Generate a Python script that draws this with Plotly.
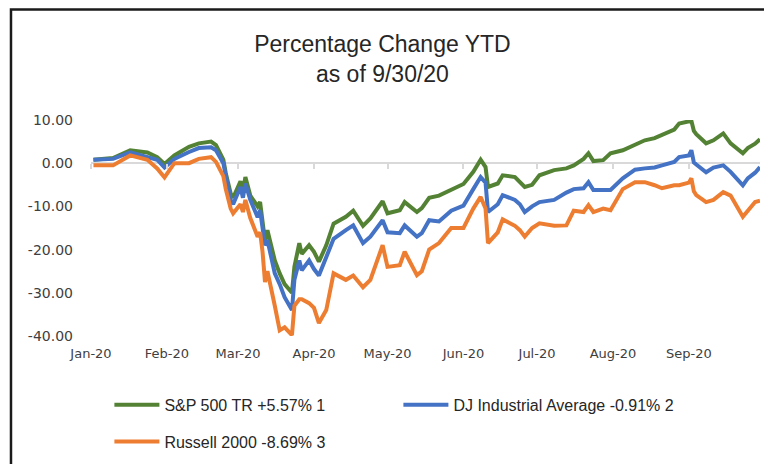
import plotly.graph_objects as go

# trading dates (Jan 2 - Sep 30, 2020)
dates = ["2020-01-02", "2020-01-10", "2020-01-17", "2020-01-24", "2020-01-28", "2020-01-31",
         "2020-02-04", "2020-02-10", "2020-02-14", "2020-02-19", "2020-02-21", "2020-02-24",
         "2020-02-25", "2020-02-27", "2020-02-28",
         "2020-03-02", "2020-03-03", "2020-03-04", "2020-03-06", "2020-03-09", "2020-03-10",
         "2020-03-11", "2020-03-12", "2020-03-13", "2020-03-16", "2020-03-18", "2020-03-20",
         "2020-03-23", "2020-03-24", "2020-03-26", "2020-03-27", "2020-03-30",
         "2020-04-01", "2020-04-03", "2020-04-06", "2020-04-09", "2020-04-14", "2020-04-17",
         "2020-04-21", "2020-04-24", "2020-04-29",
         "2020-05-01", "2020-05-06", "2020-05-08", "2020-05-13", "2020-05-15", "2020-05-18",
         "2020-05-22", "2020-05-27",
         "2020-06-01", "2020-06-05", "2020-06-08", "2020-06-10", "2020-06-11", "2020-06-15",
         "2020-06-17", "2020-06-22", "2020-06-24", "2020-06-26", "2020-06-29",
         "2020-07-02", "2020-07-08", "2020-07-13", "2020-07-16", "2020-07-20", "2020-07-22",
         "2020-07-24", "2020-07-28", "2020-07-31",
         "2020-08-05", "2020-08-10", "2020-08-14", "2020-08-18", "2020-08-21", "2020-08-26",
         "2020-08-28",
         "2020-09-01", "2020-09-02", "2020-09-03", "2020-09-04", "2020-09-08", "2020-09-11",
         "2020-09-15", "2020-09-18", "2020-09-23", "2020-09-25", "2020-09-28", "2020-09-30"]

# percentage change YTD
sp500 = [0.8, 1.2, 3.0, 2.5, 1.4, -0.2,
         1.8, 3.8, 4.6, 5.0, 4.2, 0.8, -2.3, -7.0, -8.0,
         -4.2, -6.5, -3.2, -7.5, -10.0, -9.0, -13.0, -18.0, -15.5, -22.5, -25.5, -28.0,
         -30.0, -24.0, -18.5, -21.0, -19.0,
         -20.5, -22.8, -19.0, -14.0, -12.4, -11.0, -14.5, -12.8, -8.8,
         -11.6, -10.9, -9.0, -11.3, -10.4, -8.0, -7.5, -6.2,
         -4.8, -2.0, 0.8, -0.9, -5.5, -4.7, -2.8, -3.2, -4.2, -5.5, -5.0,
         -2.8, -1.6, -1.2, -0.5, 1.0, 2.3, 0.5, 0.7, 2.3,
         3.0, 4.2, 5.3, 5.8, 6.5, 7.8, 9.2,
         9.6, 9.8, 7.5, 6.7, 4.6, 5.3, 6.9, 4.6, 2.3, 3.5, 4.5, 5.57]

djia = [0.8, 1.0, 2.5, 1.5, 0.8, -1.0,
        1.0, 2.6, 3.5, 3.7, 3.0, 0.0, -3.0, -8.5, -9.5,
        -5.5, -8.0, -4.7, -8.5, -12.5, -10.9, -14.5, -19.0, -17.8, -25.5, -28.0, -31.0,
        -34.0, -27.0, -22.5, -24.8, -22.5,
        -24.5, -26.0, -22.0, -17.5, -15.5, -14.4, -18.5, -17.0, -13.2,
        -16.0, -16.2, -14.4, -17.0, -16.2, -13.2, -13.5, -11.0,
        -9.8, -6.0, -3.2, -4.5, -11.3, -9.5, -7.4, -8.5, -9.5, -11.3, -10.0,
        -9.0, -8.5, -6.8, -6.0, -5.8, -4.4, -6.2, -6.2, -6.2,
        -3.5, -1.5, -1.2, -1.0, -0.5, 0.3, 1.4,
        1.8, 3.0, 0.2, -0.3, -2.1, -1.0, -0.5, -2.0, -5.1, -3.5, -2.2, -0.91]

russell = [-0.5, -0.5, 1.8, 0.8, -1.2, -3.3,
           0.0, 0.0, 1.0, 1.4, 0.3, -3.0, -6.0, -10.5, -11.6,
           -9.5, -11.3, -8.5, -12.7, -17.0, -16.0, -20.5, -27.5, -25.0, -33.0, -38.7, -38.0,
           -39.8, -33.0, -31.5, -31.5, -32.4,
           -33.5, -37.0, -34.0, -25.5, -27.0, -26.0, -28.7, -27.0, -19.0,
           -24.0, -23.6, -20.5, -25.9, -25.0, -20.0, -18.5, -15.0,
           -15.0, -10.5, -7.8, -10.5, -18.5, -16.0, -13.0, -14.5, -15.5, -17.0, -15.0,
           -13.9, -14.5, -14.4, -11.0, -11.3, -9.7, -11.3, -10.5, -10.9,
           -6.0, -4.4, -4.4, -5.1, -5.8, -5.1, -5.1,
           -4.5, -3.5, -6.5, -7.4, -9.0, -8.5, -6.7, -7.5, -12.4, -10.9, -9.0, -8.69]

names = ["S&P 500 TR +5.57% 1", "DJ Industrial Average -0.91% 2", "Russell 2000 -8.69% 3"]

y_ticks = [10, 0, -10, -20, -30, -40]
y_labels = ["10.00", "0.00", "-10.00", "-20.00", "-30.00", "-40.00"]

colors = {
    'sp': '#548235',
    'dj': '#4472C4',
    'rut': '#ED7D31',
    'text': '#404040',
    'axis': '#D9D9D9',
}

txt_font = "Liberation Sans, Arial, sans-serif"

fig = go.Figure()
fig.add_trace(go.Scatter(x=dates, y=sp500, mode='lines', name=names[0],
                         line=dict(color=colors['sp'], width=4)))
fig.add_trace(go.Scatter(x=dates, y=djia, mode='lines', name=names[1],
                         line=dict(color=colors['dj'], width=4)))
# Russell goes on the overlaid axis (the one with the tick marks on the zero line)
fig.add_trace(go.Scatter(x=dates, y=russell, mode='lines', name=names[2],
                         line=dict(color=colors['rut'], width=4),
                         xaxis='x2', legend='legend2'))

# the page body adds an 8px offset, margins are set with that in mind
fig.update_layout(
    width=772, height=464,
    margin=dict(l=83, r=20, t=112, b=136, autoexpand=False),
    paper_bgcolor='white',
    plot_bgcolor='white',
    title=dict(text="Percentage Change YTD<br>as of 9/30/20",
               x=0.485, xanchor='center', y=0.905, yanchor='top',
               font=dict(family=txt_font, size=23, color='#262626')),
    xaxis=dict(type='date', range=['2020-01-01', '2020-09-30'],
               tick0='2020-01-01', dtick='M1', tickformat='%b-%y',
               showgrid=False, showline=False, zeroline=False, ticks='',
               ticklabelstandoff=8,
               tickfont=dict(family='DejaVu Sans', size=13, color=colors['text'])),
    xaxis2=dict(type='date', matches='x', overlaying='x', anchor='free', position=0.8,
                tick0='2020-01-01', dtick='M1', showticklabels=False,
                showgrid=False, showline=False, zeroline=False,
                ticks='outside', ticklen=5, tickwidth=1.5, tickcolor=colors['axis']),
    yaxis=dict(range=[-40, 10], tickvals=y_ticks, ticktext=y_labels,
               showgrid=False, showline=False, ticks='',
               zeroline=True, zerolinecolor=colors['axis'], zerolinewidth=1.5,
               ticklabelstandoff=17,
               tickfont=dict(family='DejaVu Sans', size=14, color=colors['text'])),
    legend=dict(orientation='h', x=0.0275, xanchor='left', y=-0.24, yanchor='top',
                entrywidth=229, entrywidthmode='pixels', itemwidth=45,
                font=dict(family=txt_font, size=16, color='#262626')),
    legend2=dict(orientation='h', x=0.0275, xanchor='left', y=-0.41, yanchor='top',
                 itemwidth=45,
                 font=dict(family=txt_font, size=16, color='#262626')),
    showlegend=True,
    # chart frame (only top and left edges fall inside the picture)
    shapes=[dict(type='rect', xref='paper', yref='paper',
                 x0=-0.1196, x1=1.1, y0=-0.8, y1=1.512,
                 line=dict(color='#1A1A1A', width=2.5))],
)

fig.write_html("out.html")
